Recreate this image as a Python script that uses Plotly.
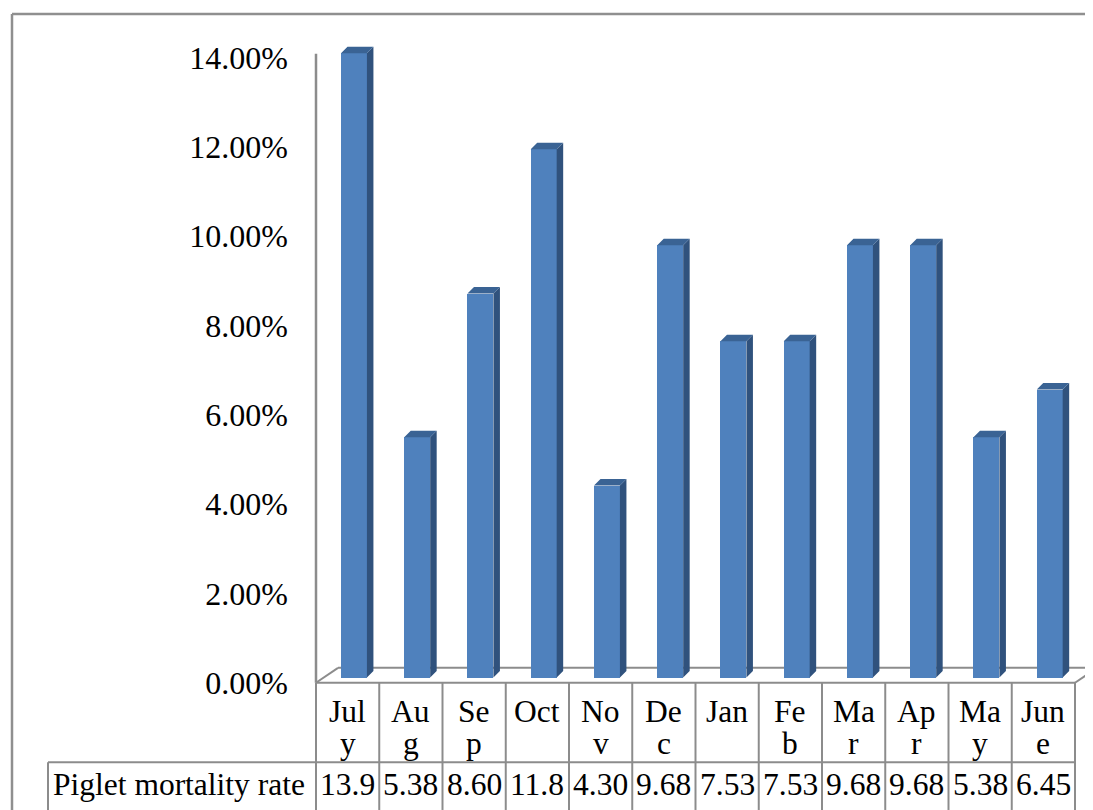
import plotly.graph_objects as go

# ---------------- data ----------------
months = ["July", "Aug", "Sep", "Oct", "Nov", "Dec", "Jan", "Feb", "Mar", "Apr", "May", "June"]
header_lines_1 = ["Jul", "Au", "Se", "Oct", "No", "De", "Jan", "Fe", "Ma", "Ap", "Ma", "Jun"]
header_lines_2 = ["y", "g", "p", "", "v", "c", "", "b", "r", "r", "y", "e"]
mortality = [0.1398, 0.0538, 0.0860, 0.1183, 0.0430, 0.0968, 0.0753, 0.0753, 0.0968, 0.0968, 0.0538, 0.0645]
series_name = "Piglet mortality rate"
y_ticks = [0.0, 0.02, 0.04, 0.06, 0.08, 0.10, 0.12, 0.14]

# ---------------- style ----------------
FONT = "Liberation Serif"
FS_TICK = 32
FS_TAB = 31.5
FRONT = "#4F81BD"
SIDE = "#30527D"
TOP = "#3A6394"
GRID = "#8C8C8C"
BAR_W = 0.41          # front face width (category units)
SHIFT = 0.10          # front face offset right of category centre
DX = 0.103            # 3D depth in x (category units)
DY = 0.00145          # 3D depth in y (value units)
BASE = 0.0012         # bars lift off the floor front edge
FLOOR_DX = 0.348
FLOOR_DY = 0.00334

OFF = 8               # page body margin
W, H = 1093 - OFF, 810 - OFF
COL_PX = 63.25
def px_x(px):  # screen pixel column -> paper x
    return (px - OFF) / W
def py(px):    # screen pixel row -> paper y
    return 1 - (px - OFF) / H

n = len(months)
xs = list(range(n))

fig = go.Figure()

# front faces
fig.add_trace(go.Bar(
    x=[i + SHIFT for i in xs], y=mortality, base=BASE, width=BAR_W,
    marker=dict(color=FRONT, line=dict(width=0)), showlegend=False, hoverinfo="skip"))

# side and top faces
sx, sy, tx, ty = [], [], [], []
for i, v in zip(xs, mortality):
    xl = i + SHIFT - BAR_W / 2
    xr = i + SHIFT + BAR_W / 2
    top = BASE + v
    sx += [xr, xr + DX, xr + DX, xr, xr, None]
    sy += [BASE, BASE + DY, top + DY, top, BASE, None]
    tx += [xl, xl + DX, xr + DX, xr, xl, None]
    ty += [top, top + DY, top + DY, top, top, None]
fig.add_trace(go.Scatter(x=sx, y=sy, fill="toself", fillcolor=SIDE, mode="lines",
                         line=dict(width=0, color=SIDE), showlegend=False, hoverinfo="skip"))
fig.add_trace(go.Scatter(x=tx, y=ty, fill="toself", fillcolor=TOP, mode="lines",
                         line=dict(width=0, color=TOP), showlegend=False, hoverinfo="skip"))

shapes = []
lw = 2
x0, x1 = -0.5, n - 0.5
# floor parallelogram
shapes.append(dict(type="line", xref="x", yref="y", x0=x0 + FLOOR_DX, y0=FLOOR_DY, x1=x1 + FLOOR_DX, y1=FLOOR_DY,
                   line=dict(color=GRID, width=lw), layer="below"))
shapes.append(dict(type="line", xref="x", yref="y", x0=x0, y0=0, x1=x0 + FLOOR_DX, y1=FLOOR_DY,
                   line=dict(color=GRID, width=lw), layer="below"))
shapes.append(dict(type="line", xref="x", yref="y", x0=x1, y0=0, x1=x1 + FLOOR_DX, y1=FLOOR_DY,
                   line=dict(color=GRID, width=lw), layer="below"))
# value axis line
shapes.append(dict(type="line", xref="x", yref="y", x0=x0, y0=0, x1=x0, y1=max(y_ticks) + 0.0009,
                   line=dict(color=GRID, width=2.5)))

# data table
t_top, t_mid, t_bot = py(687), py(767), py(815)
shapes.append(dict(type="line", xref="x", yref="paper", x0=x0, x1=x1, y0=t_top, y1=t_top,
                   line=dict(color=GRID, width=lw)))
shapes.append(dict(type="line", xref="paper", yref="paper", x0=px_x(48), x1=px_x(1075), y0=t_mid, y1=t_mid,
                   line=dict(color=GRID, width=lw)))
shapes.append(dict(type="line", xref="paper", yref="paper", x0=px_x(48), x1=px_x(48), y0=t_mid, y1=t_bot,
                   line=dict(color=GRID, width=lw)))
for k in range(n + 1):
    shapes.append(dict(type="line", xref="x", yref="paper", x0=k - 0.5, x1=k - 0.5, y0=t_top, y1=t_bot,
                       line=dict(color=GRID, width=lw)))
# outer chart frame (top and left)
shapes.append(dict(type="line", xref="paper", yref="paper", x0=px_x(12), x1=1.01, y0=py(14), y1=py(14),
                   line=dict(color="#8F8F8F", width=2.5)))
shapes.append(dict(type="line", xref="paper", yref="paper", x0=px_x(12), x1=px_x(12), y0=py(14), y1=-0.01,
                   line=dict(color="#8F8F8F", width=2.5)))

annotations = []
tf = dict(family=FONT, size=FS_TAB, color="black")
for i in xs:
    annotations.append(dict(x=i, y=py(716), xref="x", yref="paper", text=header_lines_1[i],
                            showarrow=False, xanchor="center", yanchor="middle", font=tf))
    if header_lines_2[i]:
        annotations.append(dict(x=i, y=py(748), xref="x", yref="paper", text=header_lines_2[i],
                                showarrow=False, xanchor="center", yanchor="middle", font=tf))
    annotations.append(dict(x=i, y=py(789), xref="x", yref="paper", text=f"{mortality[i] * 100:.2f}"[:4],
                            showarrow=False, xanchor="center", yanchor="middle", font=tf))
annotations.append(dict(x=px_x(51), y=py(789), xref="paper", yref="paper", text=series_name,
                        showarrow=False, xanchor="left", yanchor="middle", font=tf))

px_per_unit = 629 / 0.14
LEFT_PAD = 6  # px of plot area left of the value axis so the axis line is not clipped
fig.update_layout(
    width=W, height=H,
    margin=dict(l=0, r=0, t=0, b=0),
    paper_bgcolor="white", plot_bgcolor="rgba(0,0,0,0)",
    showlegend=False,
    bargap=0,
    xaxis=dict(domain=[px_x(316 - LEFT_PAD), 1],
               range=[-0.5 - LEFT_PAD / COL_PX, -0.5 + (1093 - 316) / COL_PX],
               showgrid=False, zeroline=False, showticklabels=False, showline=False, fixedrange=True),
    yaxis=dict(domain=[py(700), py(40)], range=[(687 - 700) / px_per_unit, (687 - 40) / px_per_unit],
               tickvals=y_ticks, tickformat=".2%", showgrid=False, zeroline=False, showline=False,
               ticks="", ticklabelstandoff=27 - LEFT_PAD,
               tickfont=dict(family=FONT, size=FS_TICK, color="black"), fixedrange=True),
    shapes=shapes,
    annotations=annotations,
)

fig.write_html("out.html")
